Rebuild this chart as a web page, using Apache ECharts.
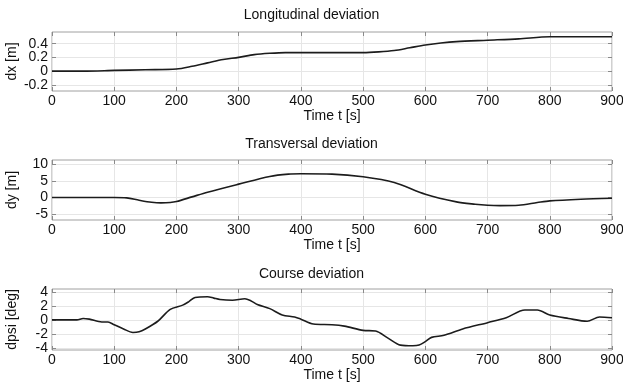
<!DOCTYPE html>
<html><head><meta charset="utf-8">
<script src="https://cdn.jsdelivr.net/npm/echarts@6/dist/echarts.min.js"></script>
<style>html,body{margin:0;padding:0;background:#fff}#c{width:623px;height:392px}</style>
</head><body><div id="c"></div>
<script>
const titles = ['Longitudinal deviation', 'Transversal deviation', 'Course deviation'];
const yNames = ['dx [m]', 'dy [m]', 'dpsi [deg]'];
const xName = 'Time t [s]';
const xTicks = [0, 100, 200, 300, 400, 500, 600, 700, 800, 900];
const yTicks = [[-0.2, 0, 0.2, 0.4], [-5, 0, 5, 10], [-4, -2, 0, 2, 4]];

const dxT = [0, 50, 100, 150, 200, 225, 250, 275, 300, 325, 350, 375, 400, 450, 500, 525, 550, 575, 600, 625, 650, 700, 750, 800, 850, 900];
const dxV = [0, 0, 0.01, 0.02, 0.03, 0.07, 0.12, 0.17, 0.2, 0.24, 0.26, 0.27, 0.27, 0.27, 0.27, 0.28, 0.3, 0.34, 0.38, 0.41, 0.43, 0.45, 0.47, 0.5, 0.5, 0.5];

const dyT = [0, 50, 100, 120, 140, 160, 175, 190, 200, 225, 250, 300, 350, 380, 400, 450, 500, 550, 600, 650, 680, 700, 720, 750, 780, 800, 850, 900];
const dyV = [0, 0, 0, -0.1, -0.8, -1.4, -1.6, -1.5, -1.2, 0.2, 1.6, 4.0, 6.3, 7.0, 7.1, 7.0, 6.2, 4.5, 1.0, -1.3, -2.0, -2.3, -2.4, -2.3, -1.5, -1.0, -0.5, -0.2];

const dpT = [0, 20, 40, 50, 60, 80, 90, 100, 115, 130, 140, 150, 170, 190, 210, 220, 230, 250, 260, 270, 290, 310, 320, 330, 350, 370, 390, 400, 420, 450, 470, 500, 520, 540, 560, 580, 590, 600, 610, 630, 660, 700, 730, 760, 780, 800, 830, 860, 880, 900];
const dpV = [0, 0, 0, 0.2, 0.1, -0.3, -0.3, -0.7, -1.3, -1.8, -1.7, -1.3, -0.2, 1.5, 2.1, 2.6, 3.2, 3.3, 3.1, 2.9, 2.8, 3.0, 2.7, 2.2, 1.6, 0.7, 0.4, 0.1, -0.6, -0.7, -0.9, -1.5, -1.6, -2.6, -3.6, -3.7, -3.6, -3.1, -2.5, -2.2, -1.3, -0.4, 0.3, 1.4, 1.4, 0.7, 0.2, -0.2, 0.4, 0.3];

// visible y-limits of each panel (MATLAB ylim)
const yLims = [[-0.29, 0.57], [-6.7, 11.2], [-4.3, 4.4]];
const series = [[dxT, dxV], [dyT, dyV], [dpT, dpV]];
const tops = [32, 160, 289];
const H = [59, 60, 61];
const titleTops = [3, 132, 262];

const font = 'Liberation Sans, Arial, sans-serif';
const grids = [], xAxes = [], yAxes = [], ser = [], ttl = [];
const tickStyle = {show: true, inside: true, length: 4, lineStyle: {color: '#8a8a8a'}};
const labelStyle = {fontFamily: font, fontSize: 14, color: '#111', margin: 4, hideOverlap: false, showMinLabel: true, showMaxLabel: true};
for (let i = 0; i < 3; i++) {
  grids.push({left: 52, right: 11, top: tops[i], height: H[i], show: true, borderColor: '#a0a0a0', borderWidth: 1, backgroundColor: '#fff', containLabel: false, outerBoundsMode: 'none'});
  ttl.push({text: titles[i], left: 'center', top: titleTops[i], textStyle: {fontFamily: font, fontSize: 14, fontWeight: 'normal', color: '#111'}});
  xAxes.push({type: 'value', gridIndex: i, min: 0, max: 900, interval: 100, position: 'bottom',
    name: xName, nameLocation: 'middle', nameGap: 18, nameTextStyle: {fontFamily: font, fontSize: 14, color: '#111'},
    axisLine: {show: false, onZero: false}, axisTick: tickStyle,
    axisLabel: Object.assign({}, labelStyle, {margin: 3}),
    splitLine: {show: true, lineStyle: {color: '#e6e6e6', width: 1}}});
  xAxes.push({type: 'value', gridIndex: i, min: 0, max: 900, interval: 100, position: 'top',
    axisLine: {show: false, onZero: false}, axisTick: tickStyle, axisLabel: {show: false}, splitLine: {show: false}});
  const lim = yLims[i], tk = yTicks[i];
  const tkA = tk.filter((_, k) => k % 2 === 0), tkB = tk.filter((_, k) => k % 2 === 1);
  const base = {type: 'value', gridIndex: i, min: lim[0], max: lim[1], axisLine: {show: false, onZero: false}};
  yAxes.push(Object.assign({}, base, {position: 'left',
    axisTick: Object.assign({customValues: tk}, tickStyle),
    name: yNames[i], nameLocation: 'middle', nameGap: 33, nameRotate: 90, nameMoveOverlap: false,
    nameTextStyle: {fontFamily: font, fontSize: 14, color: '#111'},
    axisLabel: Object.assign({customValues: tkA}, labelStyle),
    splitLine: {show: true, lineStyle: {color: '#e6e6e6', width: 1}}}));
  yAxes.push(Object.assign({}, base, {position: 'left', offset: 0,
    axisTick: {show: false}, axisLabel: Object.assign({customValues: tkB}, labelStyle), splitLine: {show: false}}));
  yAxes.push(Object.assign({}, base, {position: 'right',
    axisTick: Object.assign({customValues: tk}, tickStyle), axisLabel: {show: false}, splitLine: {show: false}}));
  const [t, v] = series[i];
  ser.push({type: 'line', xAxisIndex: 2 * i, yAxisIndex: 3 * i, data: t.map((x, k) => [x, v[k]]), smooth: 0.3, symbol: 'none',
    lineStyle: {color: '#1c1c1c', width: 1.6}, silent: true});
}
const chart = echarts.init(document.getElementById('c'));
chart.setOption({animation: false, backgroundColor: '#fff', title: ttl, grid: grids, xAxis: xAxes, yAxis: yAxes, series: ser});
</script></body></html>
